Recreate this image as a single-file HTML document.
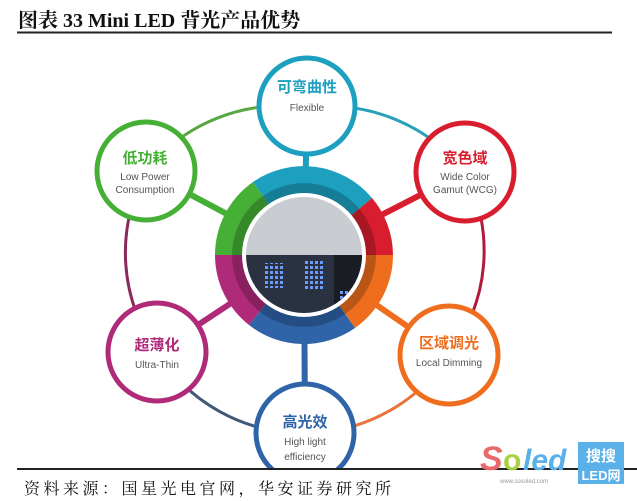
<!DOCTYPE html>
<html><head><meta charset="utf-8"><style>
body{margin:0;width:637px;height:501px;background:#fff;overflow:hidden;position:relative;font-family:"Liberation Sans","Noto Sans CJK SC",sans-serif}
.t{position:absolute;left:18px;top:4px;font-family:"Liberation Serif","Noto Serif CJK SC",serif;font-size:20px;font-weight:bold;color:#111;white-space:nowrap}
.src{position:absolute;left:24px;top:476px;font-family:"Liberation Serif","Noto Serif CJK SC",serif;font-size:16px;letter-spacing:3.5px;color:#111;white-space:nowrap}
</style></head><body>
<div class="t">图表 33 Mini LED 背光产品优势</div>
<svg width="637" height="501" style="position:absolute;left:0;top:0">
<defs>
<pattern id="d" width="5" height="5" patternUnits="userSpaceOnUse"><rect x="1" y="1" width="3" height="3" fill="#6a9cff"/></pattern>
</defs>
<line x1="17" y1="32.5" x2="612" y2="32.5" stroke="#222" stroke-width="2"/>
<g fill="none" stroke-width="3">
<path d="M146 171 A172 172 0 0 1 307 108" stroke="#5aa844"/>
<path d="M307 108 A172 172 0 0 1 465 172" stroke="#2aa0b8"/>
<path d="M465 172 A172 172 0 0 1 449 355" stroke="#b01c3c"/>
<path d="M449 355 A172 172 0 0 1 305 433" stroke="#e8743a"/>
<path d="M305 433 A172 172 0 0 1 157 352" stroke="#3f5a78"/>
<path d="M157 352 A172 172 0 0 1 146 171" stroke="#8a2a5a"/>
</g>
<g stroke-width="6">
<line x1="304" y1="255" x2="307" y2="108" stroke="#1da0c0"/>
<line x1="304" y1="255" x2="146" y2="171" stroke="#45b035"/>
<line x1="304" y1="255" x2="465" y2="172" stroke="#d81e2e"/>
<line x1="304" y1="255" x2="449" y2="355" stroke="#ee6e1e"/>
<line x1="304" y1="255" x2="305" y2="433" stroke="#2f64a8"/>
<line x1="304" y1="255" x2="157" y2="352" stroke="#b02a7a"/>
</g>
<g transform="translate(304,255)">
<path d="M0 0 L-89 0 A89 89 0 0 1 -51 -73 Z" fill="#45b035"/>
<path d="M0 0 L-51 -73 A89 89 0 0 1 68 -57 Z" fill="#1da0c0"/>
<path d="M0 0 L68 -57 A89 89 0 0 1 89 0 Z" fill="#d81e2e"/>
<path d="M0 0 L89 0 A89 89 0 0 1 51 73 Z" fill="#ee6e1e"/>
<path d="M0 0 L51 73 A89 89 0 0 1 -55 70 Z" fill="#2f64a8"/>
<path d="M0 0 L-55 70 A89 89 0 0 1 -89 0 Z" fill="#b02a7a"/>
<circle r="72" fill="rgba(0,0,0,0.22)"/>
<circle r="62" fill="#fff"/>
<clipPath id="c"><circle r="58"/></clipPath>
<g clip-path="url(#c)">
<rect x="-60" y="-60" width="120" height="60" fill="#c9cdd2"/>
<rect x="-60" y="0" width="120" height="60" fill="#2a3140"/>
<rect x="30" y="0" width="30" height="60" fill="#1a1d24"/>
<rect x="-40" y="8" width="20" height="25" fill="url(#d)"/>
<rect x="-1" y="6" width="20" height="30" fill="url(#d)"/>
<rect x="35" y="35" width="10" height="10" fill="url(#d)"/>
</g>
</g>
<g fill="#fff" stroke-width="5">
<circle cx="307" cy="106" r="48" stroke="#1da0c0"/>
<circle cx="146" cy="171" r="49" stroke="#45b035"/>
<circle cx="465" cy="172" r="49" stroke="#d81e2e"/>
<circle cx="157" cy="352" r="49" stroke="#b02a7a"/>
<circle cx="449" cy="355" r="49" stroke="#ee6e1e"/>
<circle cx="305" cy="433" r="49" stroke="#2f64a8"/>
</g>
<g text-anchor="middle" font-family="Liberation Sans,Noto Sans CJK SC,sans-serif">
<text x="307" y="92" font-size="15" font-weight="bold" fill="#1da0c0">可弯曲性</text>
<text x="307" y="111" font-size="10" fill="#555">Flexible</text>
<text x="145" y="163" font-size="15" font-weight="bold" fill="#45b035">低功耗</text>
<text x="145" y="180" font-size="10" fill="#555">Low Power</text>
<text x="145" y="193" font-size="10" fill="#555">Consumption</text>
<text x="465" y="163" font-size="15" font-weight="bold" fill="#d81e2e">宽色域</text>
<text x="465" y="180" font-size="10" fill="#555">Wide Color</text>
<text x="465" y="193" font-size="10" fill="#555">Gamut (WCG)</text>
<text x="157" y="350" font-size="15" font-weight="bold" fill="#b02a7a">超薄化</text>
<text x="157" y="368" font-size="10" fill="#555">Ultra-Thin</text>
<text x="449" y="348" font-size="15" font-weight="bold" fill="#ee6e1e">区域调光</text>
<text x="449" y="366" font-size="10" fill="#555">Local Dimming</text>
<text x="305" y="427" font-size="15" font-weight="bold" fill="#2f64a8">高光效</text>
<text x="305" y="445" font-size="10" fill="#555">High light</text>
<text x="305" y="460" font-size="10" fill="#555">efficiency</text>
</g>
<rect x="0" y="469" width="637" height="32" fill="#fff"/>
<line x1="17" y1="469" x2="637" y2="469" stroke="#222" stroke-width="2"/>
<text x="480" y="470" font-size="34" font-weight="bold" font-style="italic" fill="#e86a6a">S</text>
<text x="503" y="470" font-size="30" font-weight="bold" fill="#a8d040">o</text>
<text x="523" y="470" font-size="30" font-weight="bold" font-style="italic" fill="#5ab0e8">led</text>
<rect x="578" y="442" width="46" height="42" fill="#5ab0e8"/>
<text x="601" y="461" text-anchor="middle" font-size="15" font-weight="bold" fill="#fff">搜搜</text>
<text x="601" y="480" text-anchor="middle" font-size="13" font-weight="bold" fill="#fff">LED网</text>
<text x="500" y="483" font-size="6" fill="#999">www.sosoled.com</text>
</svg>
<div class="src">资料来源：国星光电官网，华安证券研究所</div>
</body></html>
